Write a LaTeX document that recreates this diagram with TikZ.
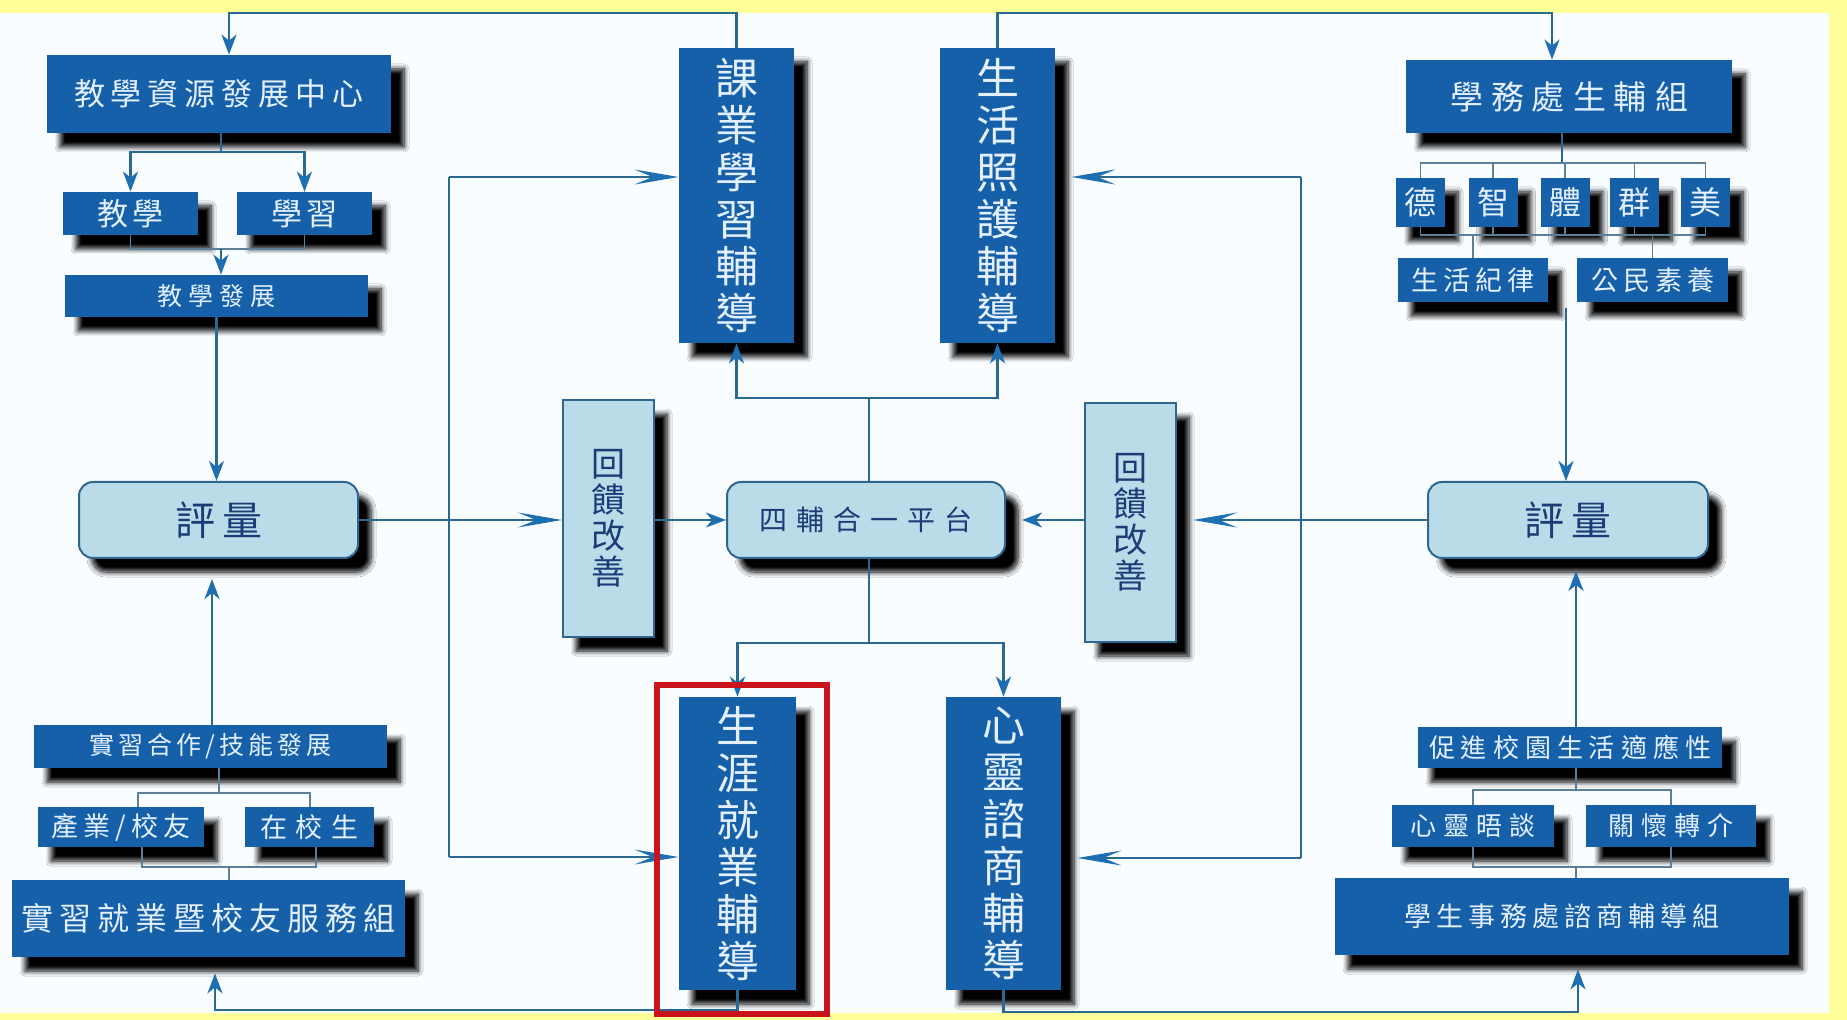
\documentclass[tikz,border=0pt]{standalone}
\usepackage{fontspec}
\newfontfamily\cjk{Noto Sans CJK TC}
\usetikzlibrary{arrows.meta,shadows.blur}
\definecolor{dblue}{HTML}{1560A8}
\definecolor{dtext}{HTML}{E4F0FF}
\definecolor{lblue}{HTML}{BADCE9}
\definecolor{lborder}{HTML}{2E6690}
\definecolor{ltext}{HTML}{1C3C78}
\definecolor{lcol}{HTML}{2A6A90}
\definecolor{tcol}{HTML}{5C7F99}
\definecolor{acol}{HTML}{1E6EB2}
\definecolor{yel}{HTML}{FFFF99}
\definecolor{bgw}{HTML}{FAFDFF}
\definecolor{redc}{HTML}{C8141A}
\makeatletter
\def\spaceit#1#2{\begingroup\def\spaceit@g{#1}\spaceit@a#2\relax\endgroup}
\def\spaceit@a#1{\ifx\relax#1\else#1\expandafter\spaceit@b\fi}
\def\spaceit@b#1{\ifx\relax#1\else\hspace{\spaceit@g}#1\expandafter\spaceit@b\fi}
\makeatother
\tikzset{
  x=0.5pt, y=-0.5pt,
  shad/.style={blur shadow={shadow xshift=6.5pt, shadow yshift=-7pt, shadow blur radius=2.5pt, shadow blur steps=8, shadow opacity=100}},
  dbox/.style={shad, fill=dblue, text=dtext, inner sep=0pt},
  lbox/.style={shad, fill=lblue, draw=lborder, line width=1pt, rounded corners=7pt, text=ltext, inner sep=0pt},
  wh/.style 2 args={minimum width=#1, minimum height=#2},
  fnt/.style 2 args={font=\cjk\fontsize{#1}{#2}\selectfont},
  con/.style={draw=lcol, line width=1.3pt},
  tline/.style={draw=tcol, line width=0.7pt},
  arr/.style={con, -{Stealth[length=10pt, width=7.5pt, inset=3pt, color=acol]}},
  larr/.style={con, -{Stealth[length=22pt, width=7.5pt, inset=9pt, color=acol]}},
}
\begin{document}
\begin{tikzpicture}
\useasboundingbox (0,0) rectangle (1847,1020);
\fill[yel] (0,0) rectangle (1847,1020);
\fill[bgw] (0,13) rectangle (1829,1013);

% ---------- left column ----------
\node[dbox, wh={172pt}{39pt}, fnt={15.5}{18}] (jxzx) at (219,94) {\spaceit{3pt}{教學資源發展中心}};
\node[dbox, wh={67.5pt}{21.5pt}, fnt={15.5}{18}] (jx1) at (130.5,213.5) {\spaceit{2.5pt}{教學}};
\node[dbox, wh={67.5pt}{21.5pt}, fnt={15.5}{18}] (jx2) at (304.5,213.5) {\spaceit{2.5pt}{學習}};
\node[dbox, wh={151.5pt}{21pt}, fnt={12.5}{15}] (jxfz) at (216.5,296) {\spaceit{3pt}{教學發展}};
\node[lbox, wh={139.5pt}{38pt}, fnt={20}{22}] (pl) at (218.5,520) {\spaceit{3.5pt}{評量}};
\node[dbox, wh={176.5pt}{21.5pt}, fnt={12.5}{15}] (sx) at (210.5,746.5) {\spaceit{2pt}{實習合作/技能發展}};
\node[dbox, wh={83pt}{20pt}, fnt={13.5}{16}] (cy) at (121,827) {\spaceit{2.5pt}{產業/校友}};
\node[dbox, wh={64.5pt}{20pt}, fnt={13.5}{16}] (zx) at (309.5,827) {\spaceit{4.5pt}{在校生}};
\node[dbox, wh={196.5pt}{38.5pt}, fnt={16}{18}] (sj) at (208.5,918.5) {\spaceit{3pt}{實習就業暨校友服務組}};

% ---------- middle ----------
\node[dbox, wh={57.5pt}{147.5pt}, fnt={21.5}{23.5}, align=center] (ky) at (736.5,195.5) {課\\業\\學\\習\\輔\\導};
\node[dbox, wh={57.5pt}{147.5pt}, fnt={21.5}{23.5}, align=center] (sh) at (997.5,195.5) {生\\活\\照\\護\\輔\\導};
\node[lbox, rounded corners=0pt, wh={45.5pt}{118.5pt}, fnt={17}{18}, align=center] (fkL) at (608.5,518.5) {回\\饋\\改\\善};
\node[lbox, wh={139pt}{38pt}, fnt={14}{16}] (sf) at (866,520) {\spaceit{4.5pt}{四輔合一平台}};
\node[lbox, rounded corners=0pt, wh={45.5pt}{119.5pt}, fnt={17}{18}, align=center] (fkR) at (1130.5,522.5) {回\\饋\\改\\善};
\node[dbox, wh={58.5pt}{146.5pt}, fnt={21.5}{23.5}, align=center] (sy) at (737.5,843.5) {生\\涯\\就\\業\\輔\\導};
\node[dbox, wh={57.5pt}{146.5pt}, fnt={21.5}{23.5}, align=center] (xl) at (1003.5,843.5) {心\\靈\\諮\\商\\輔\\導};

% ---------- right column ----------
\node[dbox, wh={163pt}{36.5pt}, fnt={16.5}{18}] (xw) at (1569,96.5) {\spaceit{4pt}{學務處生輔組}};
\node[dbox, wh={24.5pt}{24.5pt}, fnt={16}{18}] (de) at (1420.5,202.5) {德};
\node[dbox, wh={24.5pt}{24.5pt}, fnt={16}{18}] (zhi) at (1493,202.5) {智};
\node[dbox, wh={24.5pt}{24.5pt}, fnt={16}{18}] (ti) at (1565,202.5) {體};
\node[dbox, wh={24.5pt}{24.5pt}, fnt={16}{18}] (qun) at (1634.5,202.5) {群};
\node[dbox, wh={24.5pt}{24.5pt}, fnt={16}{18}] (mei) at (1705.5,202.5) {美};
\node[dbox, wh={75pt}{22pt}, fnt={13.5}{16}] (shjl) at (1473,280) {\spaceit{2.5pt}{生活紀律}};
\node[dbox, wh={75.5pt}{22pt}, fnt={13.5}{16}] (gm) at (1652.5,280) {\spaceit{2.5pt}{公民素養}};
\node[lbox, wh={140pt}{38pt}, fnt={20}{22}] (plR) at (1568,520) {\spaceit{3.5pt}{評量}};
\node[dbox, wh={152pt}{20.5pt}, fnt={13}{15}] (cj) at (1570,747.5) {\spaceit{3pt}{促進校園生活適應性}};
\node[dbox, wh={81pt}{21pt}, fnt={13}{15}] (xlw) at (1473,826) {\spaceit{3.5pt}{心靈晤談}};
\node[dbox, wh={85pt}{21pt}, fnt={13}{15}] (gh) at (1671,826) {\spaceit{3.5pt}{關懷轉介}};
\node[dbox, wh={227pt}{38.5pt}, fnt={13.5}{16}] (xs) at (1562,916.5) {\spaceit{2.5pt}{學生事務處諮商輔導組}};

% ---------- helper coordinates ----------
\coordinate (t1) at (229,13);
\coordinate (t2) at (1552,13);
\coordinate (j1) at (221,152);
\coordinate (j2) at (221,249);
\coordinate (plb) at ([yshift=-10pt]pl.south);
\coordinate (s1) at (219,793);
\coordinate (s2) at (229,867);
\coordinate (sjb) at ([yshift=-8pt]sj.south);
\coordinate (b1) at (215,1010);
\coordinate (b2) at (1578,1012);
\coordinate (xsb) at ([yshift=-7pt]xs.south);
\coordinate (u1) at (869,398);
\coordinate (d1) at (869,643);
\coordinate (fkRe) at ([xshift=8pt]fkR.east);
\coordinate (sfe) at ([xshift=8pt]sf.east);
\coordinate (she) at ([xshift=8pt]sh.east);
\coordinate (xle) at ([xshift=8pt]xl.east);
\coordinate (L1) at (449,177);
\coordinate (L2) at (449,857);
\coordinate (R1) at (1301,177);
\coordinate (R2) at (1301,858);
\coordinate (r1) at (1562,163);
\coordinate (r2) at (1562,235);
\coordinate (r3) at (1566,308);
\coordinate (plRb) at ([yshift=-6pt]plR.south);
\coordinate (r5) at (1576,790);
\coordinate (r6) at (1576,867);

% ---------- connectors ----------
\draw[arr] (ky.north) |- (t1) -- (t1 |- jxzx.north);
\draw[arr] (sh.north) |- (t2) -- (t2 |- xw.north);

\draw[con] (jxzx.south -| j1) -- (j1);
\draw[arr] (j1) -| (jx1.north);
\draw[arr] (j1) -| (jx2.north);
\draw[tline] (jx1.south) |- (j2) -| (jx2.south);
\draw[arr] (j2) -- (j2 |- jxfz.north);
\draw[arr] (jxfz.south) -- (jxfz.south |- pl.north);
\draw[arr] (sx.north -| 212,0) -- (plb -| 212,0);
\draw[tline] (sx.south -| s1) -- (s1);
\draw[tline] (cy.north -| 138,0) |- (s1) -| (zx.north -| 310,0);
\draw[tline] (cy.south -| 142,0) |- (s2) -| (zx.south -| 316,0);
\draw[tline] (s2) -- (s2 |- sj.north);
\draw[arr] (sy.south) |- (b1) -- (b1 |- sjb);
\draw[arr] (xl.south) |- (b2) -- (b2 |- xsb);

\draw[larr] (pl.east) -- (pl.east -| fkL.west);
\draw[arr] (fkL.east |- sf.west) -- (sf.west);
\draw[larr] (plR.west) -- (plR.west -| fkRe);
\draw[arr] (fkR.west |- sf.east) -- (sfe);

\draw[con] (sf.north -| u1) -- (u1);
\draw[arr] (u1) -| (ky.south);
\draw[arr] (u1) -| (sh.south);
\draw[con] (sf.south -| d1) -- (d1);
\draw[arr] (d1) -| (sy.north);
\draw[arr] (d1) -| (xl.north);

\draw[con] (L1) -- (L2);
\draw[larr] (L1) -- (L1 -| ky.west);
\draw[larr] (L2) -- (L2 -| sy.west);
\draw[con] (R1) -- (R2);
\draw[larr] (R1) -- (R1 -| she);
\draw[larr] (R2) -- (R2 -| xle);

\draw[con] (xw.south -| r1) -- (r1);
\draw[tline] (de.north) |- (r1) -| (mei.north);
\draw[tline] (zhi.north) -- (zhi.north |- r1);
\draw[tline] (ti.north) -- (ti.north |- r1);
\draw[tline] (qun.north) -- (qun.north |- r1);
\draw[tline] (de.south) |- (r2) -| (mei.south);
\draw[tline] (zhi.south) -- (zhi.south |- r2);
\draw[tline] (ti.south) -- (ti.south |- r2);
\draw[tline] (qun.south) -- (qun.south |- r2);
\draw[tline] (shjl.north |- r2) -- (shjl.north);
\draw[tline] (gm.north |- r2) -- (gm.north);
\draw[arr] (r3) -- (r3 |- plR.north);
\draw[arr] (cj.north -| 1576,0) -- (plRb -| 1576,0);
\draw[tline] (cj.south -| r5) -- (r5);
\draw[tline] (xlw.north) |- (r5) -| (gh.north);
\draw[tline] (xlw.south) |- (r6) -| (gh.south);
\draw[tline] (r6) -- (r6 |- xs.north);

% highlight frame
\draw[redc, line width=3pt] (657,685) rectangle (827,1014);
\end{tikzpicture}
\end{document}
